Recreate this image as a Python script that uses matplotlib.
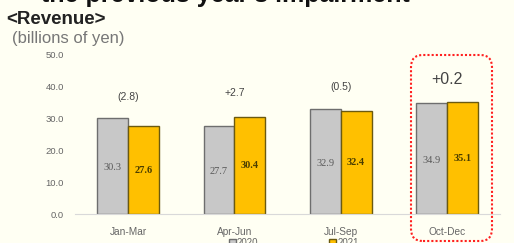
import matplotlib.pyplot as plt
import numpy as np
from matplotlib.patches import FancyBboxPatch

# data
quarters = ['Jan-Mar', 'Apr-Jun', 'Jul-Sep', 'Oct-Dec']
rev_2020 = [30.3, 27.7, 32.9, 34.9]
rev_2021 = [27.6, 30.4, 32.4, 35.1]
deltas = ['(2.8)', '+2.7', '(0.5)', '+0.2']
yticks = [0, 10, 20, 30, 40, 50]

bg = '#fffff3'
grey = '#c8c8c8'
gold = '#ffc000'

plt.rcParams['font.family'] = ['Liberation Sans', 'DejaVu Sans']

fig = plt.figure(figsize=(5.14, 2.43), dpi=100)
fig.set_facecolor(bg)
ax = fig.add_axes((0.146, 0.119, 0.827, 0.655))
ax.set_facecolor(bg)

x = np.arange(len(quarters))
w = 0.29
b1 = ax.bar(x - w / 2, rev_2020, w, color=grey, edgecolor='#6e6e6e', linewidth=1.0,
            label='2020', zorder=2)
b2 = ax.bar(x + w / 2, rev_2021, w, color=gold, edgecolor='#6b5a10', linewidth=1.0,
            label='2021', zorder=2)

# value labels inside bars
for xi, v in zip(x, rev_2020):
    ax.text(xi - w / 2, v / 2 - 0.6, f'{v:.1f}', ha='center', va='center', fontsize=7.5,
            color='#595959', family='Liberation Serif')
for xi, v in zip(x, rev_2021):
    ax.text(xi + w / 2, v / 2, f'{v:.1f}', ha='center', va='center', fontsize=7.5,
            color='#4a3d00', family='Liberation Serif', fontweight='bold')

# year-on-year change above each group
offsets = [6.4, 7.6, 6.9, 7.2]
for i, d in enumerate(deltas):
    top = max(rev_2020[i], rev_2021[i])
    if i == len(deltas) - 1:
        ax.text(x[i], top + offsets[i], d, ha='center', va='center', fontsize=11.5,
                color='#444444')
    else:
        ax.text(x[i], top + offsets[i], d, ha='center', va='center', fontsize=7.5,
                color='#444444')

ax.set_xlim(-0.5, 3.5)
ax.set_ylim(0, 50)
ax.set_yticks(yticks)
ax.set_yticklabels([f'{t:.1f}' for t in yticks], fontsize=6.8, color='#666666')
ax.set_xticks(x)
ax.set_xticklabels(quarters, fontsize=7.3, color='#666666')
ax.tick_params(length=0)
ax.tick_params(axis='y', pad=8)
ax.tick_params(axis='x', pad=9)
for s in ['top', 'right', 'left']:
    ax.spines[s].set_visible(False)
ax.spines['bottom'].set_color('#d9d9d9')
ax.spines['bottom'].set_linewidth(0.8)

# legend, cut at the bottom edge like the source slide
fig.legend(handles=[b1, b2], loc='center', bbox_to_anchor=(0.572, 0.0), ncol=2,
           frameon=False, fontsize=7, handlelength=0.7, handleheight=0.7,
           handletextpad=0.15, columnspacing=7.3, labelcolor='#666666')

# titles
fig.text(0.438, 0.99, "the previous year's impairment", ha='center', va='baseline',
         fontsize=18, fontweight='bold', color='#111111')
fig.text(0.012, 0.9, '<Revenue>', ha='left', va='baseline', fontsize=13.5,
         fontweight='bold', color='#222222')
fig.text(0.024, 0.842, '(billions of yen)', ha='left', va='center', fontsize=12,
         color='#777777')

# red dotted highlight around the last quarter
box = FancyBboxPatch((4.11, 0.02), 0.81, 1.86, boxstyle='round,pad=0,rounding_size=0.12',
                     transform=fig.dpi_scale_trans, fill=False, edgecolor='#ff2020',
                     linestyle=(0, (1, 1)), linewidth=1.5, zorder=5)
fig.patches.append(box)

fig.savefig('out.png', dpi=100, facecolor=bg)
